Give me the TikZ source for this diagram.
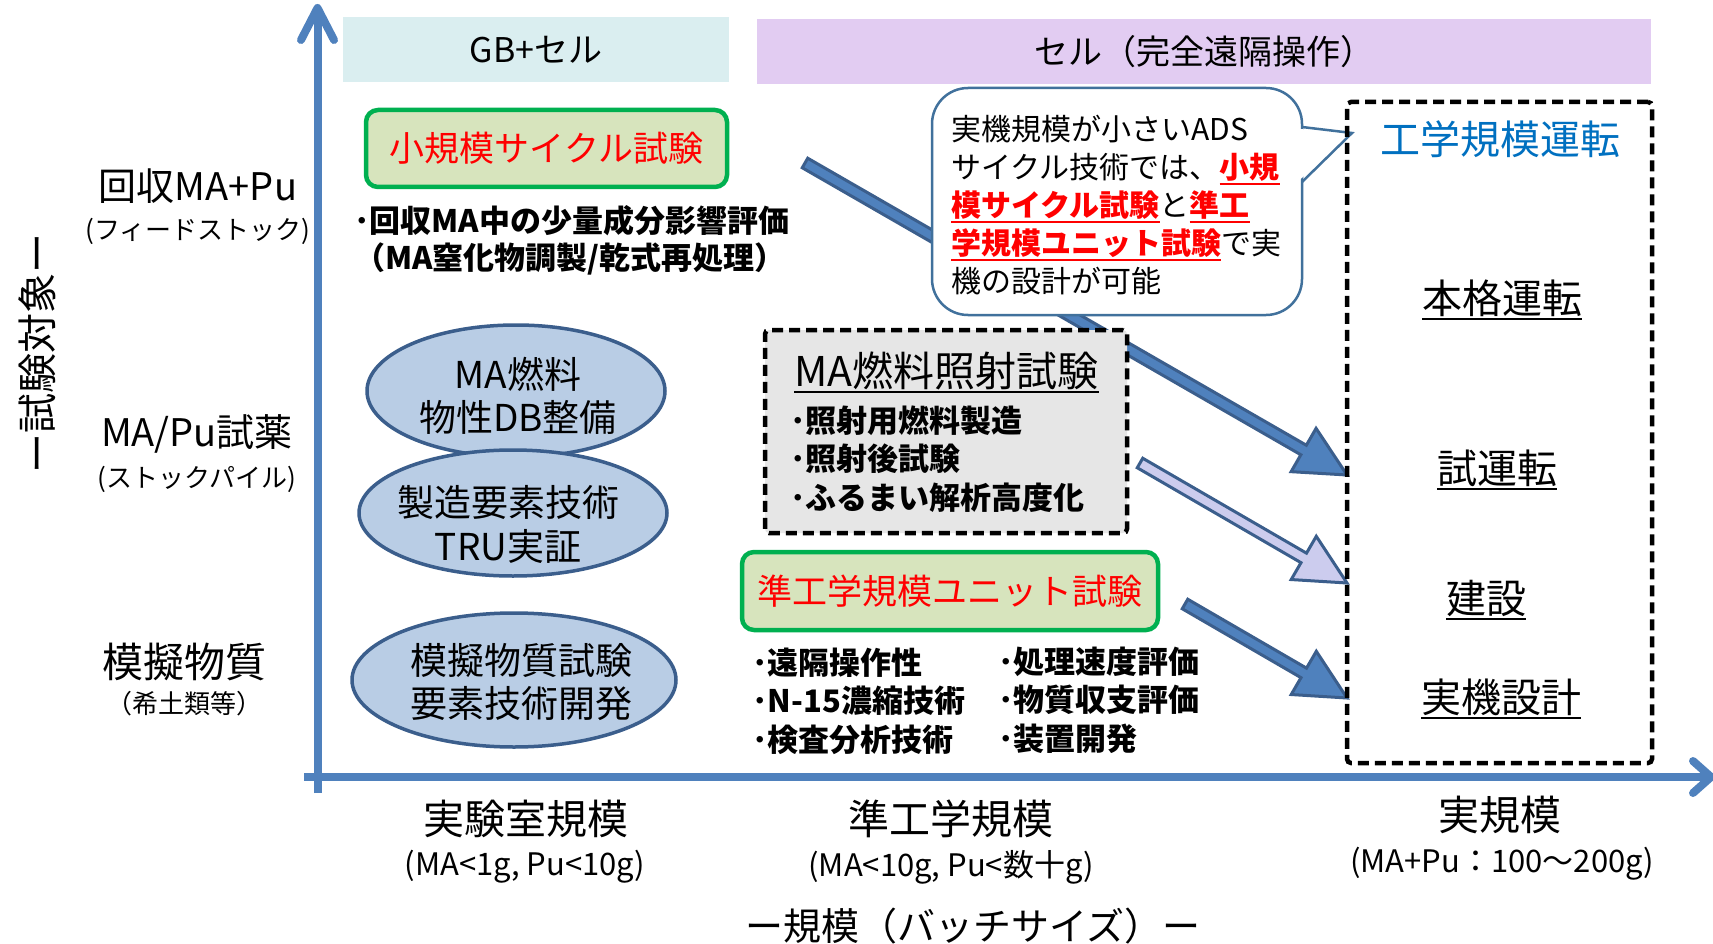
\documentclass[tikz,border=0pt]{standalone}
\usepackage{fontspec}
\setmainfont{Noto Sans CJK JP}
\usetikzlibrary{calc,shapes.geometric}
\definecolor{axisblue}{HTML}{4F81BD}
\definecolor{gbfill}{HTML}{DAEEF0}
\definecolor{cellfill}{HTML}{E2CCF2}
\definecolor{greenfill}{HTML}{D7E4BD}
\definecolor{greenline}{HTML}{00B050}
\definecolor{ellfill}{HTML}{B9CDE5}
\definecolor{darkblue}{HTML}{3B5E8C}
\definecolor{greyfill}{HTML}{E6E6E6}
\definecolor{titleblue}{HTML}{0070C0}
\definecolor{lav}{HTML}{CCCCEE}
\definecolor{callline}{HTML}{41719C}
\newcommand\fs[2]{\fontsize{#1}{#2}\selectfont}
\newcommand\ulx[2][2.2pt]{\vtop{\hbox{#2}\kern1.5pt\hrule height #1\relax}}
\newcommand\rul[1]{{\color{red}\bfseries\ulx[1.8pt]{#1}}}
\newcommand\blockarrow[3]{%
\draw[blockarr, fill=#3] let \p1=($(#2)-(#1)$), \n1={atan2(\y1,\x1)}, \n2={veclen(\x1,\y1)} in
 ($(#1)+(\n1+90:5.5pt)$) -- ($(#1)+(\n1:{\n2-50pt})+(\n1+90:5.5pt)$) -- ($(#1)+(\n1:{\n2-50pt})+(\n1+90:25pt)$) -- (#2) -- ($(#1)+(\n1:{\n2-50pt})+(\n1-90:25pt)$) -- ($(#1)+(\n1:{\n2-50pt})+(\n1-90:5.5pt)$) -- ($(#1)+(\n1-90:5.5pt)$) -- cycle;}
\begin{document}
\begin{tikzpicture}[x=1pt,y=-1pt,
  hdr/.style={inner sep=0pt, minimum height=65pt, font=\fs{34}{40}},
  greenbox/.style={draw=greenline, line width=4.5pt, fill=greenfill, rounded corners=12pt, text=red, inner sep=0pt},
  ell/.style={ellipse, draw=darkblue, line width=3.5pt, fill=ellfill, inner sep=0pt},
  dashbox/.style={draw=black, line width=4.5pt, dash pattern=on 11pt off 6pt, rounded corners=4pt, inner sep=0pt},
  txt/.style={inner sep=0pt, align=center},
  bul/.style={inner sep=0pt, align=left, font=\bfseries\fs{31}{38.5}},
  axisline/.style={draw=axisblue, line width=8pt, line cap=round, line join=round},
  blockarr/.style={draw=darkblue, line width=3pt, line join=miter},
  callout/.style={draw=callline, line width=2.5pt, fill=white},
]
\useasboundingbox (0,0) rectangle (1713,944);
\fill[white] (0,0) rectangle (1713,944);

% headers
\node[hdr, fill=gbfill, minimum width=386pt] (gb) at (536,49.5) {GB+セル};
\node[hdr, fill=cellfill, minimum width=894pt] (cell) at (1204,52) {セル（完全遠隔操作）};

% axes
\coordinate (ybot) at (317.5,793);
\coordinate (ytip) at (317.5,8);
\coordinate (xleft) at (304,777);
\coordinate (xtip) at (1711,777);
\draw[axisline, line cap=butt] (ybot) -- ($(ytip)+(0,4)$);
\draw[axisline] ($(ytip)+(-16.5,32)$) -- (ytip) -- ($(ytip)+(16.5,32)$);
\draw[axisline, line cap=butt] (xleft) -- ($(xtip)+(-4,0)$);
\draw[axisline] ($(xtip)+(-18,-16)$) -- (xtip) -- ($(xtip)+(-18,16)$);

% block arrows
\coordinate (a1s) at (805,163);
\coordinate (a1e) at (1347,475);
\coordinate (a2s) at (1140,463);
\coordinate (a2e) at (1347,583);
\coordinate (a3s) at (1185,604);
\coordinate (a3e) at (1347,698);
\blockarrow{a1s}{a1e}{axisblue}
\blockarrow{a2s}{a2e}{lav}
\blockarrow{a3s}{a3e}{axisblue}

% MA irradiation box
\node[dashbox, fill=greyfill, minimum width=362pt, minimum height=203pt] (irr) at (946,431.5) {};
\node[txt, anchor=base, font=\fs{41}{48}] (irrt) at (946.5,386) {\ulx{MA燃料照射試験}};
\node[bul, anchor=west] (irrb) at (790,459) {･照射用燃料製造\\･照射後試験\\･ふるまい解析高度化};

% callout
\node[callout, rounded corners=36pt, minimum width=370pt, minimum height=227pt, inner sep=0pt] (bub) at (1117,201.5) {};
\coordinate (ctip) at (1352,133);
\fill[white] (1299.5,129) -- (ctip) -- (1299.5,180) -- cycle;
\draw[callline, line width=2.5pt, line join=miter] (1302,127) -- (ctip) -- (1302,182);
\node[anchor=north west, inner sep=0pt, align=left, font=\fs{30}{38}] (bubt) at (951,115)
 {実機規模が小さいADS\\サイクル技術では、\rul{小規}\\\rul{模サイクル試験}と\rul{準工}\\\rul{学規模ユニット試験}で実\\機の設計が可能};

% green boxes
\node[greenbox, minimum width=361pt, minimum height=77pt, font=\fs{35}{42}] (sc) at (546.5,148.5) {小規模サイクル試験};
\node[bul, anchor=west, font=\bfseries\fs{31}{37}] (scb) at (354,240) {･回収MA中の少量成分影響評価\\（MA窒化物調製/乾式再処理）};
\node[greenbox, minimum width=416pt, minimum height=78pt, font=\fs{35}{42}] (qe) at (950,591) {準工学規模ユニット試験};
\node[bul, anchor=west] (qeb1) at (752,701) {･遠隔操作性\\･N-15濃縮技術\\･検査分析技術};
\node[bul, anchor=west] (qeb2) at (998,700) {･処理速度評価\\･物質収支評価\\･装置開発};

% ellipses
\node[ell, minimum width=298pt, minimum height=132pt] (e1) at (516,391) {};
\node[ell, minimum width=308pt, minimum height=126pt] (e2) at (513,513) {};
\node[ell, minimum width=324pt, minimum height=134pt] (e3) at (514,680) {};
\node[txt, font=\fs{37}{43}] (e1t) at (518,396) {MA燃料\\物性DB整備};
\node[txt, font=\fs{37}{44}] (e2t) at (508,524) {製造要素技術\\TRU実証};
\node[txt, font=\fs{37}{43}] (e3t) at (521,682) {模擬物質試験\\要素技術開発};

% engineering scale box
\node[dashbox, minimum width=305pt, minimum height=661pt] (eng) at (1499.5,432.5) {};
\node[txt, anchor=base, text=titleblue, font=\fs{40}{48}] (engt) at (1500,155) {工学規模運転};
\node[txt, anchor=base, font=\fs{40}{48}] (s1) at (1502,313) {\ulx{本格運転}};
\node[txt, anchor=base, font=\fs{40}{48}] (s2) at (1497,483) {\ulx{試運転}};
\node[txt, anchor=base, font=\fs{40}{48}] (s3) at (1486,613) {\ulx{建設}};
\node[txt, anchor=base, font=\fs{40}{48}] (s4) at (1501,712) {\ulx{実機設計}};

% left labels
\node[txt, font=\fs{38}{44}] (l1) at (198,186) {回収MA+Pu};
\node[txt, font=\fs{26}{30}] (l1s) at (198,231) {(フィードストック)};
\node[txt, font=\fs{38}{44}] (l2) at (197,434) {MA/Pu試薬};
\node[txt, font=\fs{26}{30}] (l2s) at (197,479) {(ストックパイル)};
\node[txt, font=\fs{41}{48}] (l3) at (184,662) {模擬物質};
\node[txt, font=\fs{26}{30}] (l3s) at (184,704) {（希土類等）};
\node[txt, rotate=90, font=\fs{40}{48}] (vl) at (37,353) {ー試験対象ー};

% bottom labels
\node[txt, font=\fs{41}{48}] (b1) at (526,819) {実験室規模};
\node[txt, font=\fs{31}{36}] (b1s) at (525,867) {(MA<1g, Pu<10g)};
\node[txt, font=\fs{41}{48}] (b2) at (951,819) {準工学規模};
\node[txt, font=\fs{31}{36}] (b2s) at (951,867) {(MA<10g, Pu<数十g)};
\node[txt, font=\fs{41}{48}] (b3) at (1500,815) {実規模};
\node[txt, font=\fs{31}{36}] (b3s) at (1502,864) {(MA+Pu：100～200g)};
\node[txt, font=\fs{38}{46}] (bt) at (973,926) {ー規模（バッチサイズ）ー};
\end{tikzpicture}
\end{document}
